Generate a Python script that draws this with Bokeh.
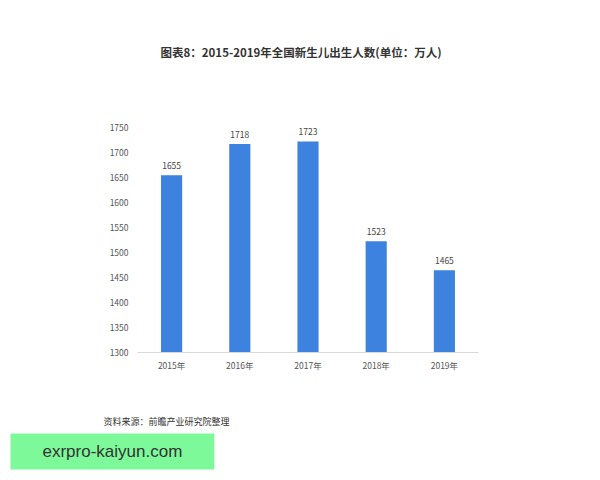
from bokeh.plotting import figure
from bokeh.models import ColumnDataSource, Range1d, FixedTicker, Title
from bokeh.core.properties import value
from bokeh.embed import file_html
from bokeh.resources import INLINE

years = ['2015年', '2016年', '2017年', '2018年', '2019年']
births = [1655, 1718, 1723, 1523, 1465]
y_ticks = [1300, 1350, 1400, 1450, 1500, 1550, 1600, 1650, 1700, 1750]

FONT = "Noto Sans CJK SC"

src = ColumnDataSource(data=dict(year=years, births=births, lbl=[str(b) for b in births]))

p = figure(x_range=years, y_range=Range1d(1300, 1805), width=592, height=472,
           output_backend="svg", toolbar_location=None,
           min_border_left=137, min_border_right=114, min_border_top=0, min_border_bottom=0)

p.vbar(x='year', top='births', bottom=1300, width=0.31, source=src,
       fill_color="#3d82de", line_color=None)
p.text(x='year', y='births', text='lbl', source=src, y_offset=-6,
       text_align='center', text_baseline='bottom', text_font_size='8.5px',
       text_color='#444444', text_font=value(FONT))

p.xgrid.grid_line_color = None
p.ygrid.grid_line_color = None
p.outline_line_color = None
p.background_fill_color = "white"

p.yaxis.ticker = FixedTicker(ticks=y_ticks)
p.yaxis.axis_line_color = None
p.yaxis.major_tick_line_color = None
p.yaxis.minor_tick_line_color = None
p.yaxis.major_label_text_font_size = '8.5px'
p.yaxis.major_label_text_color = '#555555'
p.yaxis.major_label_text_font = FONT
p.yaxis.major_label_standoff = 3

p.xaxis.axis_line_color = '#d9d9d9'
p.xaxis.major_tick_line_color = None
p.xaxis.minor_tick_line_color = None
p.xaxis.major_label_text_font_size = '8.5px'
p.xaxis.major_label_text_color = '#555555'
p.xaxis.major_label_text_font = FONT
p.xaxis.major_label_standoff = 0

p.title.text = '图表8：2015-2019年全国新生儿出生人数(单位：万人)'
p.title.align = 'left'
p.title.offset = 23
p.title.text_font = FONT
p.title.text_font_size = '11.5px'
p.title.text_font_style = 'bold'
p.title.text_color = '#333333'
p.title.standoff = 82

# empty title only used as vertical space under the x axis
p.add_layout(Title(text=' ', text_font=FONT, text_font_size='9px', standoff=24), 'below')
p.add_layout(Title(text='资料来源：前瞻产业研究院整理', align='left', offset=-34,
                   text_font=FONT, text_font_size='9px', text_font_style='normal',
                   text_color='#333333', standoff=1), 'below')
p.add_layout(Title(text='exrpro-kaiyun.com', align='left', offset=-127,
                   text_font="Liberation Sans", text_font_size='17px', text_font_style='normal',
                   text_color='#333333', background_fill_color='#7df99a',
                   padding=[32, 32, 8, 9], standoff=6), 'below')

open("out.html", "w").write(file_html(p, INLINE))
